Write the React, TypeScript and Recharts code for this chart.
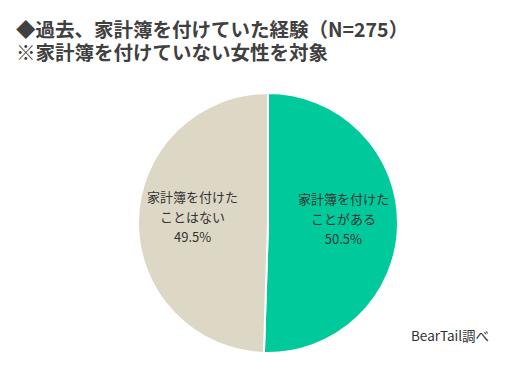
import { PieChart, Pie, Cell } from "recharts";

const categories = ["家計簿を付けた\nことがある", "家計簿を付けた\nことはない"];
const shares = [50.5, 49.5];
const sliceColors = ["#00c99b", "#ddd7c5"];

const data = categories.map((name, i) => ({ name, value: shares[i] }));

const RAD = Math.PI / 180;

function renderLabel(props: any) {
  const { cx, cy, midAngle, outerRadius, index, value } = props;
  const r = outerRadius * 0.58;
  const x = cx + r * Math.cos(-midAngle * RAD);
  const y = cy + r * Math.sin(-midAngle * RAD);
  const lines = categories[index].split("\n");
  return (
    <text
      x={x}
      y={y}
      textAnchor="middle"
      fill="#333"
      fontSize={13}
      fontFamily="'Noto Sans CJK JP', sans-serif"
    >
      <tspan x={x} dy={-20}>{lines[0]}</tspan>
      <tspan x={x} dy={20}>{lines[1]}</tspan>
      <tspan x={x} dy={20}>{value.toFixed(1)}%</tspan>
    </text>
  );
}

export default function App() {
  return (
    <div
      style={{
        position: "absolute",
        left: 0,
        top: 0,
        width: 527,
        height: 372,
        background: "#fff",
        fontFamily: "'Noto Sans CJK JP', sans-serif",
      }}
    >
      <div
        style={{
          position: "absolute",
          left: 16,
          top: 18,
          fontSize: 19.5,
          fontWeight: 700,
          color: "#404040",
          whiteSpace: "nowrap",
        }}
      >
        <div style={{ height: 21, lineHeight: "21px" }}>◆過去、家計簿を付けていた経験（N=275）</div>
        <div style={{ height: 21, lineHeight: "21px", marginTop: 2 }}>※家計簿を付けていない女性を対象</div>
      </div>
      <PieChart width={527} height={372} style={{ position: "absolute", left: 0, top: 0 }}>
        <Pie
          data={data}
          dataKey="value"
          cx={263}
          cy={218}
          outerRadius={130}
          startAngle={90}
          endAngle={-270}
          stroke="#fff"
          strokeWidth={2}
          label={renderLabel}
          labelLine={false}
          isAnimationActive={false}
        >
          {data.map((d, i) => (
            <Cell key={d.name} fill={sliceColors[i]} />
          ))}
        </Pie>
      </PieChart>
      <div
        style={{
          position: "absolute",
          left: 411,
          top: 325,
          fontSize: 13.5,
          color: "#333",
          whiteSpace: "nowrap",
        }}
      >
        BearTail調べ
      </div>
    </div>
  );
}
